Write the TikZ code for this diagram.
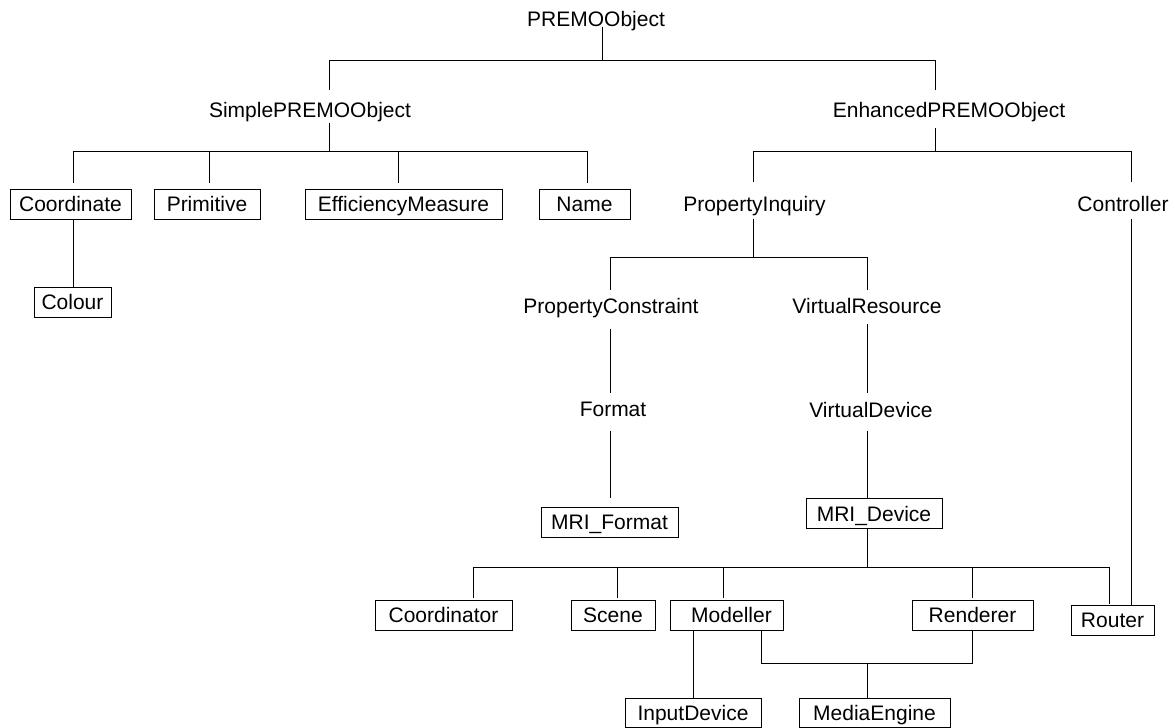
\documentclass[tikz,border=0pt]{standalone}
\usepackage{fontspec}
\setmainfont{Liberation Sans}
\begin{document}
\begin{tikzpicture}[x=1pt,y=-1pt,
  every node/.style={font=\fontsize{21}{25}\selectfont, text height=15pt, text depth=0pt, inner sep=0pt},
  label/.style={},
  classbox/.style={draw, line width=1pt, minimum height=30pt},
  every path/.style={line width=1pt}]
\useasboundingbox (0,0) rectangle (1175,728);

% abstract classes (plain text)
\node[label] (premo)      at (596,18.5)  {PREMOObject};
\node[label] (simple)     at (310,109.5) {SimplePREMOObject};
\node[label] (enhanced)   at (949,109.5) {EnhancedPREMOObject};
\node[label] (inquiry)    at (754.5,203.5) {PropertyInquiry};
\node[label] (controller) at (1123,203.5) {Controller};
\node[label] (constraint) at (611,305.5) {PropertyConstraint};
\node[label] (vresource)  at (867,305.5) {VirtualResource};
\node[label] (format)     at (613,408.5) {Format};
\node[label] (vdevice)    at (871,409.5) {VirtualDevice};

% concrete classes (boxed)
\node[classbox, minimum width=121pt] (coordinate)  at (70.5,204)  {Coordinate};
\node[classbox, minimum width=106pt] (primitive)   at (207,204)   {Primitive};
\node[classbox, minimum width=197pt] (effmeasure)  at (403.5,204) {EfficiencyMeasure};
\node[classbox, minimum width=91pt]  (name)        at (584.5,204) {Name};
\node[classbox, minimum width=77pt]  (colour)      at (72.5,302)  {Colour};
\node[classbox, minimum width=137pt] (mriformat)   at (609.5,522) {MRI\_Format};
\node[classbox, minimum width=136pt] (mridevice)   at (874,513.5) {MRI\_Device};
\node[classbox, minimum width=137pt] (coordinator) at (443.5,615) {Coordinator};
\node[classbox, minimum width=84pt]  (scene)       at (613,615)   {Scene};
\node[classbox, minimum width=113pt] (modeller)    at (726.5,615) {\hspace*{10pt}Modeller};
\node[classbox, minimum width=121pt] (renderer)    at (972.5,615) {Renderer};
\node[classbox, minimum width=83pt]  (router)      at (1112.5,620) {Router};
\node[classbox, minimum width=136pt, minimum height=29pt] (inputdevice) at (693,712.5) {InputDevice};
\node[classbox, minimum width=151pt, minimum height=29pt] (mediaengine) at (874.5,712.5) {MediaEngine};

% junction points of the connector buses
\coordinate (bM) at (602,60);  \coordinate (bL) at (329,60);  \coordinate (bR) at (935,60);
\coordinate (sM) at (329,151); \coordinate (s1) at (73,151);  \coordinate (s2) at (209,151);
\coordinate (s3) at (398,151); \coordinate (s4) at (587,151);
\coordinate (eM) at (935,151); \coordinate (e1) at (753,151); \coordinate (e2) at (1131,151);
\coordinate (pM) at (753,257); \coordinate (p1) at (610,257); \coordinate (p2) at (867,257);
\coordinate (mM) at (867,567); \coordinate (m1) at (473,567); \coordinate (m2) at (617,567);
\coordinate (m3) at (723,567); \coordinate (m4) at (972,567); \coordinate (m5) at (1109,567);
\coordinate (kM) at (867,663); \coordinate (k1) at (761,663); \coordinate (k2) at (972,663);

% PREMOObject
\draw (premo.south -| bM) -- (bM);
\draw[shorten <=12pt, shorten >=12pt] (simple.north -| bL) -- (bL) -- (bR) -- (enhanced.north -| bR);

% SimplePREMOObject
\draw[shorten <=5pt] (simple.south -| sM) -- (sM);
\draw[shorten <=6pt, shorten >=6pt] (coordinate.north -| s1) -- (s1) -- (s4) -- (name.north -| s4);
\draw[shorten >=6pt] (s2) -- (primitive.north -| s2);
\draw[shorten >=6pt] (s3) -- (effmeasure.north -| s3);
\draw (coordinate.south -| s1) -- (colour.north -| s1);

% EnhancedPREMOObject
\draw[shorten <=10pt] (enhanced.south -| eM) -- (eM);
\draw[shorten <=14pt, shorten >=14pt] (inquiry.north -| e1) -- (e1) -- (e2) -- (controller.north -| e2);
\draw[shorten <=7pt] (controller.south -| e2) -- (router.north -| e2);

% PropertyInquiry
\draw[shorten <=7pt] (inquiry.south -| pM) -- (pM);
\draw[shorten <=8pt, shorten >=8pt] (constraint.north -| p1) -- (p1) -- (p2) -- (vresource.north -| p2);
\draw[shorten <=15pt, shorten >=8pt] (constraint.south -| p1) -- (format.north -| p1);
\draw[shorten <=14pt, shorten >=9pt] (format.south -| p1) -- (mriformat.north -| p1);
\draw[shorten <=10pt, shorten >=9pt] (vresource.south -| p2) -- (vdevice.north -| p2);
\draw[shorten <=13pt] (vdevice.south -| p2) -- (mridevice.north -| p2);

% MRI_Device
\draw (mridevice.south -| mM) -- (mM);
\draw[shorten <=2pt, shorten >=1pt] (coordinator.north -| m1) -- (m1) -- (m5) -- (router.north -| m5);
\draw[shorten >=2pt] (m2) -- (scene.north -| m2);
\draw[shorten >=2pt] (m3) -- (modeller.north -| m3);
\draw[shorten >=2pt] (m4) -- (renderer.north -| m4);

% Modeller and Renderer
\draw (modeller.south -| inputdevice) -- (inputdevice.north);
\draw (modeller.south -| k1) -- (k1) -- (k2) -- (renderer.south -| k2);
\draw (kM) -- (mediaengine.north -| kM);
\end{tikzpicture}
\end{document}
